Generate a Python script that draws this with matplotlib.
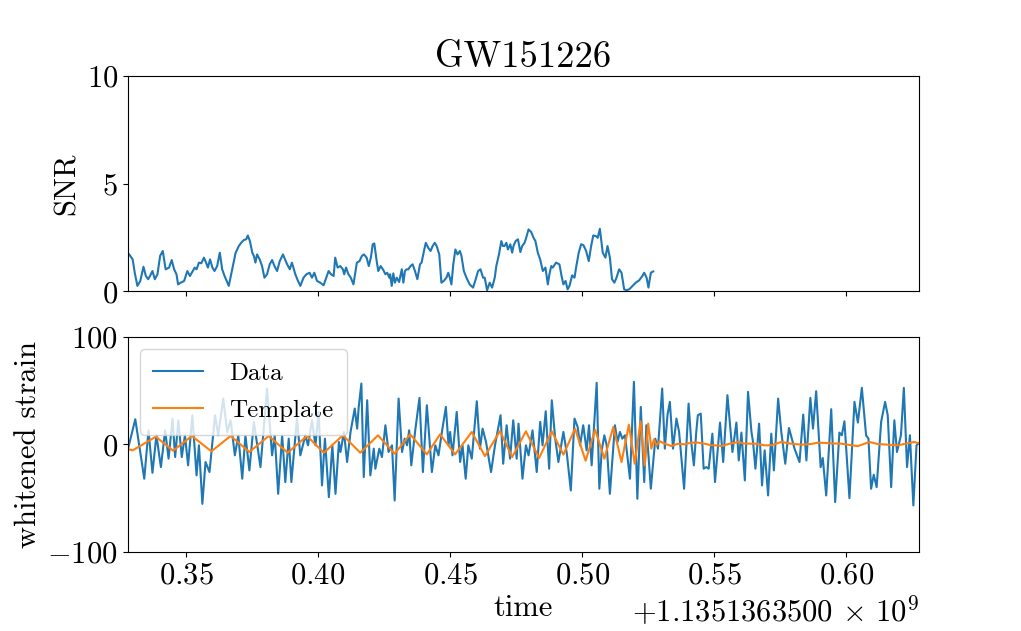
import matplotlib
matplotlib.use("Agg")
import matplotlib.pyplot as plt
from matplotlib.ticker import ScalarFormatter
import numpy as np

plt.rcParams["font.family"] = "serif"
plt.rcParams["font.serif"] = ["cmr10"]
plt.rcParams["mathtext.fontset"] = "cm"
plt.rcParams["axes.formatter.use_mathtext"] = True
plt.rcParams["axes.unicode_minus"] = False
plt.rcParams["font.size"] = 22

event = "GW151226"
t_ref = 1135136350.0  # GPS seconds, times below are ms after this

# matched-filter SNR (ms, value)
snr_t = [328.5, 329.8, 330.6, 331.6, 332.7, 333.9, 334.8, 335.7, 336.7, 337.3,
         338.2, 339.2, 340.2, 341.2, 342.3, 343.6, 344.6, 345.5, 346.4, 347.0,
         348.0, 349.3, 350.5, 351.5, 352.4, 353.3, 354.0, 354.9, 355.8, 356.8,
         357.6, 358.3, 359.1, 360.0, 360.8, 361.8, 362.8, 363.7, 364.6, 365.4,
         366.2, 367.5, 368.8, 370.0, 370.9, 371.9, 372.8, 373.4, 374.2, 375.1,
         375.7, 376.3, 376.9, 377.9, 378.8, 379.7, 380.7, 381.7, 382.6, 383.5,
         384.5, 385.5, 386.7, 388.3, 389.3, 390.1, 391.4, 392.4, 393.3, 394.5,
         395.6, 396.8, 397.7, 398.6, 399.6, 400.8, 402.1, 403.1, 404.0, 404.9,
         405.9, 406.5, 407.4, 408.4, 409.4, 409.9, 410.6, 411.5, 412.4, 413.4,
         414.7, 415.7, 416.6, 417.4, 418.4, 419.2, 420.0, 420.7, 421.3, 422.2,
         422.8, 423.7, 424.7, 425.5, 426.2, 427.0,
         427.3, 427.9, 428.5, 429.1, 429.8, 430.7, 431.7, 432.3, 432.9, 433.5,
         434.2, 435.0, 435.8, 436.7, 437.6, 438.6, 439.2, 440.1, 440.8, 441.7,
         442.6, 443.4, 444.2, 444.9, 445.9, 446.7, 447.6, 448.6, 449.3, 449.9,
         450.5, 451.2, 452.0, 452.8, 453.7, 454.3, 455.2, 456.2, 457.4, 458.7,
         459.7, 460.6, 461.5, 462.5, 463.1, 464.0, 465.0, 465.9, 466.9, 467.5,
         468.5, 469.4, 470.0, 470.6, 471.3, 471.9, 472.8, 473.5, 474.0, 474.8,
         475.7, 476.6, 477.3, 478.2, 478.8, 479.7, 480.7, 481.6, 482.3, 483.2,
         484.1, 485.1, 486.1, 487.0, 487.6, 488.3, 488.9, 490.1, 491.4, 492.2,
         492.9, 493.7, 494.5, 495.2, 496.2, 497.1, 497.7, 498.7, 499.6, 500.5,
         501.5, 502.5, 503.4, 504.2, 505.2, 505.9, 506.7, 507.8, 508.8, 509.6,
         510.5, 511.3, 512.2, 513.0, 514.0, 514.9, 515.9, 516.8, 517.8, 519.1,
         520.3, 521.6, 522.8, 523.5, 524.4, 525.1, 526.0, 526.9]
snr_vals = [1.71, 1.48, 0.86, 0.25, 0.48, 1.14, 0.71, 0.56, 0.79, 0.94,
            0.56, 0.79, 1.64, 1.87, 1.02, 1.10, 1.45, 1.02, 0.79, 0.32,
            0.40, 0.48, 0.94, 0.71, 0.90, 1.10, 1.02, 1.33, 1.30, 1.56,
            1.33, 1.10, 1.48, 1.10, 0.94, 1.17, 1.79, 1.02, 0.71, 0.48,
            0.25, 1.02, 1.79, 2.10, 2.25, 2.38, 2.41, 2.59, 2.33, 1.79,
            1.64, 1.33, 1.71, 1.48, 1.17, 0.63, 0.79, 1.25, 1.45, 1.17,
            0.94, 1.40, 1.71, 1.25, 1.02, 1.33, 0.79, 0.48, 0.25, 0.63,
            0.79, 0.86, 0.63, 0.86, 0.48, 0.40, 0.28, 0.63, 0.94, 0.79,
            0.71, 1.56, 1.10, 1.17, 1.02, 0.79, 1.10, 0.79, 0.63, 0.32,
            1.33, 1.40, 1.64, 1.71, 1.56, 1.17, 1.56, 2.18, 2.22, 1.40,
            0.94, 1.17, 0.99, 0.79, 0.86, 0.63,
            0.79, 0.25, 0.83, 0.40, 0.63, 0.43, 1.02, 0.40, 0.94, 1.02,
            1.02, 1.17, 1.25, 0.94, 0.56, 1.25, 1.33, 1.87, 2.25, 2.02,
            1.87, 2.10, 2.25, 2.10, 1.71, 0.40, 0.48, 0.63, 0.86, 0.63,
            0.32, 1.25, 1.94, 1.71, 1.87, 1.64, 0.94, 0.63, 0.32, 0.17,
            0.56, 0.94, 1.02, 0.63, 0.63, 0.05, 0.40, 0.17, 0.63, 1.17,
            1.71, 2.33, 2.10, 2.10, 2.25, 1.94, 2.18, 1.79, 2.10, 2.33,
            2.41, 1.82, 2.10, 2.25, 2.48, 2.87, 2.75, 2.48, 2.33, 1.79,
            1.48, 0.94, 1.10, 0.32, 0.79, 1.17, 1.10, 1.33, 1.25, 0.71,
            0.32, 0.48, 0.09, 0.25, 0.74, 0.63, 1.10, 1.79, 2.18, 2.14,
            1.87, 1.40, 2.10, 2.59, 2.56, 2.48, 2.90, 1.79, 1.56, 2.10,
            1.56, 0.56, 0.40, 0.63, 1.02, 0.86, 0.09, 0.05, 0.09, 0.25,
            0.40, 0.51, 0.71, 0.86, 0.63, 0.17, 0.86, 0.92]

# whitened strain data (ms, value)
strain_t = [327.9, 330.8, 334.2, 335.8, 337.3, 338.8, 340.5, 342.1, 343.4, 344.9,
            345.9, 347.1, 348.4, 349.6, 350.8, 352.4, 354.0, 354.9, 356.2, 357.4,
            358.9, 361.0, 362.2, 364.1, 365.6, 366.9, 368.5, 369.8, 371.3, 372.5,
            374.0, 375.7, 378.2, 380.7, 382.6, 383.6, 384.9, 386.4, 387.6, 388.9,
            389.9, 392.0, 393.3, 395.2, 396.2, 397.7, 399.0, 400.2, 401.5,
            402.6, 404.1, 405.4, 406.6, 407.9, 408.5, 409.8, 411.0, 412.3, 413.9,
            414.8, 415.4, 416.4, 417.3, 418.6, 419.8, 421.1, 421.7, 423.2, 424.2,
            425.5, 426.7, 428.0, 429.0, 430.5, 431.8, 432.8, 433.7, 434.5, 435.3,
            436.8, 438.4, 439.7, 441.2, 443.1, 444.4, 445.6, 446.9, 448.4, 449.4,
            450.0, 450.9, 452.5, 453.8, 454.7, 455.9, 456.9, 458.2, 460.1, 461.3,
            462.3, 463.6, 465.5, 467.0, 469.1, 470.1, 471.4, 472.7, 473.9, 475.2,
            475.9, 477.4, 478.7, 479.7, 481.2, 482.8, 484.1, 485.0, 486.2, 487.5,
            488.5, 489.8, 491.0, 492.9, 494.2, 495.7, 497.1, 498.3, 499.2, 500.4,
            501.7, 502.6, 503.6, 505.5, 506.5, 507.4, 508.4, 509.3, 510.5, 512.4,
            513.4, 514.3, 515.2, 516.2, 518.1, 519.6, 520.9, 522.2, 523.5, 524.3,
            526.0, 527.7, 528.7, 530.3, 531.3, 532.3, 533.2, 534.4, 535.7, 536.7,
            538.6, 540.3, 541.3, 542.3, 543.2, 543.8, 544.9, 546.0, 547.0, 547.9,
            549.3,
            550.3, 552.2, 553.4, 555.0, 556.9, 558.4, 559.3, 560.3, 561.6, 562.8,
            564.1, 564.7, 565.6, 567.0, 568.1, 569.1, 570.4, 571.6, 572.6, 574.2,
            575.4, 576.9, 578.3, 580.4, 582.3, 583.7, 584.9, 586.4, 587.4, 588.6,
            590.3, 591.1, 592.4, 594.3, 595.8, 597.4, 598.3, 599.3, 601.2, 603.1,
            604.4, 605.9, 607.5, 608.4, 609.4, 610.4, 611.5, 613.2, 614.7, 615.7,
            617.0, 618.2, 619.2, 620.7, 621.8, 623.0, 624.1, 625.4, 626.6, 627.9]
strain_vals = [-5.6, 23.3, -31.9, 13.0, -26.4, 8.4, -21.1, 13.0, -13.3, 23.9,
               -11.8, 22.3, -11.8, 8.4, -19.5, 27.0, -28.8, -0.9, -55.2, -16.4,
               -25.7, 27.0, 8.4, 42.5, 11.5, 22.3, -10.2, 8.4, -31.9, 8.4,
               -24.2, 20.8, -21.1, 51.8, -10.2, 8.4, -45.9, 8.4, -35.0, 5.3,
               -35.0, 23.9, -10.2, 8.4, -0.9, 22.3, -0.9, 30.1, -38.1,
               5.3, -49.0, -0.9, -45.9, 2.2, -7.1, 11.5, -16.4, 11.5, 33.2,
               14.6, 34.7, 56.4, -30.4, 40.9, -28.8, -4.0, -22.6, -4.0, -11.8,
               17.7, -7.1, -0.9, -52.1, 42.5, -7.1, 5.3, -0.9, 13.0, -19.5,
               13.0, 43.1, -25.7, 36.3, -25.7, -0.9, -10.2, 11.5, 34.7, -0.9,
               11.5, -10.2, 30.1, -16.4, -0.9, -31.9, -0.9, -13.3, 40.0, -4.0,
               14.6, 2.2, -25.7, -0.9, 27.0, -18.0, 17.7, -13.3, 22.3, -13.3,
               19.2, -31.9, -0.9, -10.2, 13.0, -25.7, 20.8, -0.9, 30.7, -22.6,
               40.9, 5.3, -16.4, 11.5, -8.7, -42.8, 23.9, 16.1, -0.9, 17.7,
               -5.6, 17.7, -19.5, 57.1, -41.2, -5.6, 8.4, -0.9, -45.9, 17.7,
               2.2, 11.5, 5.3, 8.4, -31.9, 58.0, -50.5, 34.7, -35.0, 17.7,
               -41.2, 5.3, -4.0, 51.8, -4.0, 27.0, 39.4, -4.0, 23.9, 11.5,
               -41.2, 37.8, 2.2, -19.5, 11.5, 27.0, 28.5, -22.6, -21.1, -22.6,
               9.9,
               -35.0, 20.2, -16.4, 45.6, -7.1, 20.2, -14.9, 10.9, -33.5, 48.7,
               11.5, 2.2, -22.6, 19.2, -38.1, -5.6, -47.4, 9.9, -24.2, 42.5,
               11.5, -18.0, 15.2, -4.0, -16.4, 27.6, -14.9, 43.1, 14.6, 49.3,
               -21.1, -12.7, -47.4, 32.6, -53.6, 10.9, 8.4, 21.4, -49.9, 39.4,
               20.2, 52.4, 8.4, 5.3, -41.2, -28.2, -39.7, 20.8, 39.4, 27.0,
               -39.7, 22.3, -7.1, 8.4, 52.4, -21.1, 8.4, -56.7, -0.9, 2.0]

# best-fit template (ms, value)
tmpl_t = [327.3, 329.8, 338.6, 345.1, 352.2, 359.6, 366.9, 374.0, 381.3, 388.5,
          395.8, 402.2, 409.4, 416.0, 422.7, 429.0, 434.9, 441.2, 446.2, 451.9,
          458.2, 463.2, 468.9, 473.5, 478.7, 483.7, 488.5, 492.9, 497.3, 501.3,
          504.9, 508.4, 511.8, 514.9, 517.7, 519.9, 522.1, 523.7, 525.0, 526.2,
          527.2, 528.1, 529.4, 531.3, 533.8, 536.3, 538.8, 541.3, 543.8, 546.4,
          548.9, 550.3, 552.8, 555.3, 559.1, 561.6, 565.4, 569.1, 571.6, 575.4,
          579.2, 583.0, 586.7, 589.3, 594.3, 598.1, 600.6, 604.4, 608.8, 611.9,
          615.7, 619.4, 623.2, 625.7, 627.9]
tmpl_vals = [-4.0, -5.6, 7.1, -5.9, 7.8, -6.5, 7.8, -7.1, 7.8, -7.8,
             7.8, -7.8, 8.4, -7.8, 8.4, -8.7, 9.3, -9.3, 9.3, -9.3,
             11.5, -10.9, 12.4, -11.8, 12.1, -12.7, 12.1, -9.6, 14.6, -15.2,
             13.6, -13.3, 16.1, -16.4, 18.3, -18.0, 21.4, -19.5, 19.2, -4.0,
             4.7, -0.9, 2.8, 0.6, -1.6, 0.6, 0.0, 1.6, 1.6, 0.6,
             -0.9, -0.9, -1.6, 0.3, 2.2, 0.6, 0.6, -0.9, -0.9, 2.2,
             0.6, -0.3, 0.3, 1.6, 0.9, 0.6, -0.3, -1.6, 2.2, 0.3,
             -0.3, -0.9, 0.9, 2.2, 0.6]


class GPSFormatter(ScalarFormatter):
    # keep the full-precision offset string, e.g. +1.1351363500 x 10^9
    def get_offset(self):
        return r"$+%.10f\,\times\,10^{9}$" % (t_ref / 1e9)


snr_x = t_ref + np.array(snr_t) / 1000.0
strain_x = t_ref + np.array(strain_t) / 1000.0
tmpl_x = t_ref + np.array(tmpl_t) / 1000.0

fig, (ax, ax1) = plt.subplots(2, 1, figsize=(10.21, 6.31), dpi=100, sharex=True)
fig.subplots_adjust(left=0.125, right=0.9, top=0.88, bottom=0.125, hspace=0.21)

ax.plot(snr_x, snr_vals)
ax.set_ylim(0, 10)
ax.set_ylabel("SNR")
ax.set_title(event)

ax1.plot(strain_x, strain_vals, label="Data")
ax1.plot(tmpl_x, tmpl_vals, label="Template")
ax1.set_ylim(-100, 100)
ax1.set_xlim(t_ref + 0.3279, t_ref + 0.6275)
ax1.xaxis.set_major_formatter(GPSFormatter(useMathText=True))
ax1.set_ylabel("whitened strain")
ax1.set_xlabel("time")
ax1.legend(loc="upper left", fontsize=18, handletextpad=1.05,
           borderpad=0.52, labelspacing=0.58)

fig.savefig("out.png", dpi=100)
plt.close(fig)
